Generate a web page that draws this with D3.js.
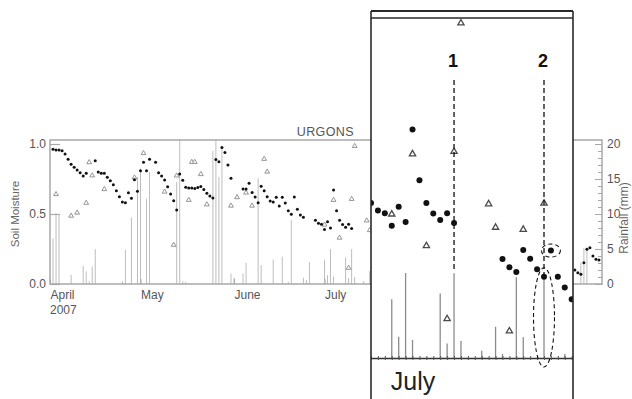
<!DOCTYPE html>
<html>
<head>
<meta charset="utf-8">
<script src="https://cdn.jsdelivr.net/npm/d3@7"></script>
<style>
  body { margin: 0; background: #fff; }
  svg { display: block; font-family: "Liberation Sans", Arial, sans-serif; }
</style>
</head>
<body>
<div id="chart"></div>
<script>
// ---- data ----
const siteName = 'URGONS';
const monthLabels = ['April', 'May', 'June', 'July'];
const monthStarts = ['2007-04-01', '2007-05-01', '2007-06-01', '2007-07-01'];
const yearLabel = '2007';
const moistureTicks = [0, 0.5, 1];
const rainTicks = [0, 5, 10, 15, 20];

// daily soil moisture, index = days after 1 April 2007 (null = no reading)
const moisture = [
  null,
  0.962, 0.957, 0.957, 0.952, 0.929, 0.891, 0.855, 0.834, 0.814, 0.795,
  0.771, 0.791, null, null, 0.881, 0.800, 0.791, 0.791, 0.762, 0.738,
  0.709, 0.666, 0.624, 0.586, 0.581, 0.652, 0.612, 0.745, 0.662, 0.809,
  0.869, 0.809, 0.891, null, 0.869, 0.795, 0.771, 0.743, 0.695, 0.643,
  0.595, 0.529, 0.786, 0.741, 0.691, 0.686, 0.686, 0.682, 0.689, 0.696,
  0.675, 0.649, 0.629, 0.614, 0.889, 0.873, 0.975, 0.939, 0.850, 0.755,
  null, null, null, 0.679, 0.679, 0.719, 0.654, 0.621, 0.581, 0.698,
  0.666, 0.624, 0.593, 0.586, 0.619, 0.557, 0.619, 0.579, 0.524, 0.498,
  0.621, 0.534, 0.493, 0.477, null, null, null, 0.456, 0.434, 0.426,
  0.389, 0.445, 0.400, 0.672, 0.523, 0.456, 0.425, 0.406, 0.426, 0.397,
  null, null, null, null, null, null, 0.291, 0.267, 0.253, 0.318,
  0.292, 0.261, 0.239, 0.316, 0.239, 0.207, 0.173
];
// end of September readings, first one is day 174 (22 Sept)
const moistureSeptFirstDay = 174;
const moistureSept = [0.100, 0.081, 0.069, 0.152, 0.248, 0.259, 0.200, 0.176, 0.171];

// rainfall (mm), day = days after 1 April
const rainDay = [1, 2, 3, 7, 11, 12, 13, 14, 15, 24, 25, 27, 29, 30, 32, 33, 42, 43, 44, 45,
  54, 55, 56, 57, 60, 61, 64, 65, 69, 70, 74, 77, 79, 80, 84, 85, 86,
  91, 92, 93, 94, 98, 99, 100, 101, 104, 106, 107, 109, 110, 113, 116, 176, 177, 178];
const rainMm = [6.5, 10.1, 10.0, 1.3, 2.6, 1.8, 0.4, 2.5, 5.0, 0.4, 4.9, 9.5, 15.3, 16.5, 12.2, 16.0, 14.6, 22, 0.4, 0.3,
  19.0, 22, 15.3, 19.5, 1.5, 0.9, 1.5, 3.0, 15.1, 2.7, 3.5, 3.9, 0.3, 9.1, 0.9, 0.6, 3.1,
  3.45, 1.25, 5.0, 1.06, 3.8, 0.85, 4.98, 1.0, 0.43, 1.84, 0.24, 4.75, 1.22, 4.69, 0.24, 3.1, 5.1, 5.2];

// second soil moisture series (triangles)
const triDay = [2, 7, 9, 12, 13, 14, 18, 28, 31, 38, 41, 42, 46, 47, 48, 50, 52, 60, 62, 65, 67, 71, 72,
  91, 94, 96, 99, 100, 101, 105, 106, 108, 110, 113];
const triValue = [0.641, 0.487, 0.509, 0.579, 0.869, 0.775, 0.677, 0.760, 0.934, 0.659, 0.279, 0.774, 0.600, 0.871, 0.871,
  0.784, 0.568, 0.559, 0.619, 0.652, 0.559, 0.893, 0.802,
  0.423, 0.600, 0.330, 0.115, 0.607, 0.985, 0.453, 0.384, 0.079, 0.378, 0.455];

// zoomed July panel
const insetFirstDay = 88;
const insetDays = 30;
const insetLabel = 'July';
const insetLabelDay = 91;
const eventLabels = ['1', '2'];
const eventDays = [100, 113];
const circledDay = 114;

// ---- chart ----
const start = new Date(2007, 3, 1);
const dayDate = (d) => d3.timeDay.offset(start, d);

const width = 632;
const height = 399;
const m = { l: 50, r: 602, t: 140, b: 284 };

const svg = d3.select('#chart').append('svg')
  .attr('width', width)
  .attr('height', height)
  .attr('viewBox', [0, 0, width, height]);

const x = d3.scaleTime()
  .domain([start, new Date(2007, 9, 1)])
  .range([m.l, m.r]);
const y = d3.scaleLinear().domain([0, 1]).range([m.b, 144]);
const yRain = d3.scaleLinear().domain([0, 20]).range([m.b, 144]);

const rain = rainDay.map((d, i) => ({ d, v: rainMm[i] }));
const soil = moisture.map((v, d) => ({ d, v })).filter((p) => p.v != null)
  .concat(moistureSept.map((v, i) => ({ d: moistureSeptFirstDay + i, v })));
const tri = triDay.map((d, i) => ({ d, v: triValue[i] }));

const axisGrey = '#a8a8a8';
const textGrey = '#555';

// rainfall bars
svg.append('g')
  .selectAll('line')
  .data(rain)
  .join('line')
  .attr('x1', (p) => x(dayDate(p.d)))
  .attr('x2', (p) => x(dayDate(p.d)))
  .attr('y1', m.b)
  .attr('y2', (p) => Math.max(m.t, yRain(p.v)))
  .attr('stroke', '#bdbdbd')
  .attr('stroke-width', 1);

// frame
svg.append('rect')
  .attr('x', m.l).attr('y', m.t)
  .attr('width', m.r - m.l).attr('height', m.b - m.t)
  .attr('fill', 'none')
  .attr('stroke', axisGrey)
  .attr('stroke-width', 1.5);

// left axis
svg.append('g')
  .attr('transform', `translate(${m.l},0)`)
  .attr('color', textGrey)
  .call(d3.axisLeft(y).tickValues(moistureTicks).tickFormat(d3.format('.1f')).tickSize(-10).tickPadding(4))
  .call((g) => g.select('.domain').remove())
  .call((g) => g.selectAll('.tick line').attr('stroke', axisGrey).attr('stroke-width', 1.2))
  .call((g) => g.selectAll('text').attr('font-size', 12).attr('x', -4));

svg.append('text')
  .attr('transform', `translate(19,${(m.t + m.b) / 2 + 2}) rotate(-90)`)
  .attr('text-anchor', 'middle')
  .attr('font-size', 11.5)
  .attr('fill', '#666')
  .text('Soil Moisture');

// right axis
svg.append('g')
  .attr('transform', `translate(${m.r},0)`)
  .attr('color', textGrey)
  .call(d3.axisRight(yRain).tickValues(d3.range(0, 21, 1)).tickFormat('').tickSize(-4))
  .call((g) => g.select('.domain').remove())
  .call((g) => g.selectAll('.tick line').attr('stroke', axisGrey));
svg.append('g')
  .attr('transform', `translate(${m.r},0)`)
  .attr('color', textGrey)
  .call(d3.axisRight(yRain).tickValues(rainTicks).tickSize(-7).tickPadding(5))
  .call((g) => g.select('.domain').remove())
  .call((g) => g.selectAll('.tick line').attr('stroke', axisGrey))
  .call((g) => g.selectAll('text').attr('font-size', 12).attr('x', 5));

svg.append('text')
  .attr('transform', `translate(628,${(m.t + m.b) / 2 + 6}) rotate(-90)`)
  .attr('text-anchor', 'middle')
  .attr('font-size', 12)
  .attr('fill', '#666')
  .text('Rainfall (mm)');

// bottom axis
svg.append('g')
  .attr('transform', `translate(0,${m.b})`)
  .attr('color', textGrey)
  .call(d3.axisBottom(x)
    .tickValues(monthStarts.map((s) => d3.timeParse('%Y-%m-%d')(s)))
    .tickFormat((d, i) => monthLabels[i])
    .tickSize(-5).tickPadding(6))
  .call((g) => g.select('.domain').remove())
  .call((g) => g.selectAll('.tick line').attr('stroke', axisGrey))
  .call((g) => g.selectAll('text').attr('font-size', 12).attr('text-anchor', 'start').attr('dy', '0.75em'));

svg.append('text')
  .attr('x', x(start))
  .attr('y', 314)
  .attr('font-size', 12)
  .attr('fill', textGrey)
  .text(yearLabel);

svg.append('text')
  .attr('x', 354)
  .attr('y', 136)
  .attr('text-anchor', 'end')
  .attr('font-size', 12.5)
  .attr('letter-spacing', 0.4)
  .attr('fill', textGrey)
  .text(siteName);

// triangles
svg.append('g')
  .selectAll('path')
  .data(tri)
  .join('path')
  .attr('transform', (p) => `translate(${x(dayDate(p.d))},${y(p.v)})`)
  .attr('d', d3.symbol(d3.symbolTriangle, 10))
  .attr('fill', '#fff')
  .attr('stroke', '#8a8a8a')
  .attr('stroke-width', 0.9);

// soil moisture dots
svg.append('g')
  .selectAll('circle')
  .data(soil)
  .join('circle')
  .attr('cx', (p) => x(dayDate(p.d)))
  .attr('cy', (p) => y(p.v))
  .attr('r', 1.5)
  .attr('fill', '#111');

// ---- zoomed panel ----
const box = { l: 371, r: 573, t: 11, t2: 18, b: 399 };
const ix = d3.scaleTime()
  .domain([dayDate(insetFirstDay), dayDate(insetFirstDay + insetDays)])
  .range([box.l, box.l + insetDays * 6.92]);
const iy = d3.scaleLinear().domain([0, 1]).range([358, box.t2]);
const iRain = d3.scaleLinear().domain([0, 20]).range([358, box.t2]);
const inRange = (p) => p.d >= insetFirstDay && p.d <= insetFirstDay + insetDays;

const inset = svg.append('g');
inset.append('rect')
  .attr('x', box.l).attr('y', box.t)
  .attr('width', box.r - box.l).attr('height', box.b - box.t)
  .attr('fill', '#fff');

svg.append('clipPath').attr('id', 'insetClip')
  .append('rect')
  .attr('x', box.l).attr('y', box.t2)
  .attr('width', box.r - box.l).attr('height', box.b - box.t2);

const plot = inset.append('g').attr('clip-path', 'url(#insetClip)');

plot.append('g')
  .selectAll('line')
  .data(rain.filter(inRange))
  .join('line')
  .attr('x1', (p) => ix(dayDate(p.d)))
  .attr('x2', (p) => ix(dayDate(p.d)))
  .attr('y1', iRain(0))
  .attr('y2', (p) => iRain(p.v))
  .attr('stroke', '#8c8c8c')
  .attr('stroke-width', 1.3);

// axis with daily ticks
const dayTicks = d3.range(0, insetDays + 1).map((i) => dayDate(insetFirstDay + i));
plot.append('g')
  .attr('transform', `translate(0,${iRain(0)})`)
  .call(d3.axisBottom(ix).tickValues(dayTicks).tickFormat('').tickSize(2).tickSizeOuter(0))
  .call((g) => g.select('.domain').attr('stroke', '#333').attr('stroke-width', 1.3))
  .call((g) => g.selectAll('.tick line').attr('stroke', '#555'));
plot.append('g')
  .attr('transform', `translate(0,${iRain(0)})`)
  .call(d3.axisTop(ix).tickValues(dayTicks).tickFormat('').tickSize(2).tickSizeOuter(0))
  .call((g) => g.select('.domain').remove())
  .call((g) => g.selectAll('.tick line').attr('stroke', '#555'));

plot.append('g')
  .selectAll('path')
  .data(tri.filter(inRange))
  .join('path')
  .attr('transform', (p) => `translate(${ix(dayDate(p.d))},${iy(p.v)})`)
  .attr('d', d3.symbol(d3.symbolTriangle, 17))
  .attr('fill', '#fff')
  .attr('stroke', '#4a4a4a')
  .attr('stroke-width', 1.3);

plot.append('g')
  .selectAll('circle')
  .data(soil.filter(inRange))
  .join('circle')
  .attr('cx', (p) => ix(dayDate(p.d)))
  .attr('cy', (p) => iy(p.v))
  .attr('r', 3)
  .attr('fill', '#111');

plot.append('text')
  .attr('x', ix(dayDate(insetLabelDay)) - 1)
  .attr('y', 390)
  .attr('font-size', 25)
  .attr('fill', '#222')
  .text(insetLabel);

// event markers 1 and 2
const rainOn = (d) => (rain.find((p) => p.d === d) || { v: 0 }).v;
eventDays.forEach((d, i) => {
  const ex = ix(dayDate(d));
  plot.append('line')
    .attr('x1', ex).attr('x2', ex)
    .attr('y1', 80)
    .attr('y2', iRain(rainOn(d)) - 2)
    .attr('stroke', '#111')
    .attr('stroke-width', 1.3)
    .attr('stroke-dasharray', '5,3');
  plot.append('text')
    .attr('x', ex - 1)
    .attr('y', 67)
    .attr('text-anchor', 'middle')
    .attr('font-size', 18)
    .attr('font-weight', 'bold')
    .attr('fill', '#111')
    .text(eventLabels[i]);
});

const lastEvent = eventDays[eventDays.length - 1];
const lastSoil = moisture[lastEvent];
plot.append('ellipse')
  .attr('cx', ix(dayDate(lastEvent)))
  .attr('cy', (iy(lastSoil) + iy(0)) / 2)
  .attr('rx', 10.5)
  .attr('ry', (iy(0) - iy(lastSoil)) / 2 + 9)
  .attr('fill', 'none')
  .attr('stroke', '#111')
  .attr('stroke-width', 1.1)
  .attr('stroke-dasharray', '4,3');

plot.append('ellipse')
  .attr('cx', ix(dayDate(circledDay)))
  .attr('cy', iy(moisture[circledDay]))
  .attr('rx', 9.5)
  .attr('ry', 6.5)
  .attr('fill', 'none')
  .attr('stroke', '#111')
  .attr('stroke-width', 1.1)
  .attr('stroke-dasharray', '4,3');

// panel border
const border = inset.append('g').attr('stroke', '#2a2a2a').attr('fill', 'none');
border.append('line').attr('x1', box.l).attr('x2', box.l).attr('y1', box.t).attr('y2', box.b).attr('stroke-width', 1.6);
border.append('line').attr('x1', box.r).attr('x2', box.r).attr('y1', box.t).attr('y2', box.b).attr('stroke-width', 1.6);
border.append('line').attr('x1', box.l).attr('x2', box.r).attr('y1', box.t).attr('y2', box.t).attr('stroke-width', 1.8);
border.append('line').attr('x1', box.l).attr('x2', box.r).attr('y1', box.t2).attr('y2', box.t2).attr('stroke-width', 1.4);
</script>
</body>
</html>
